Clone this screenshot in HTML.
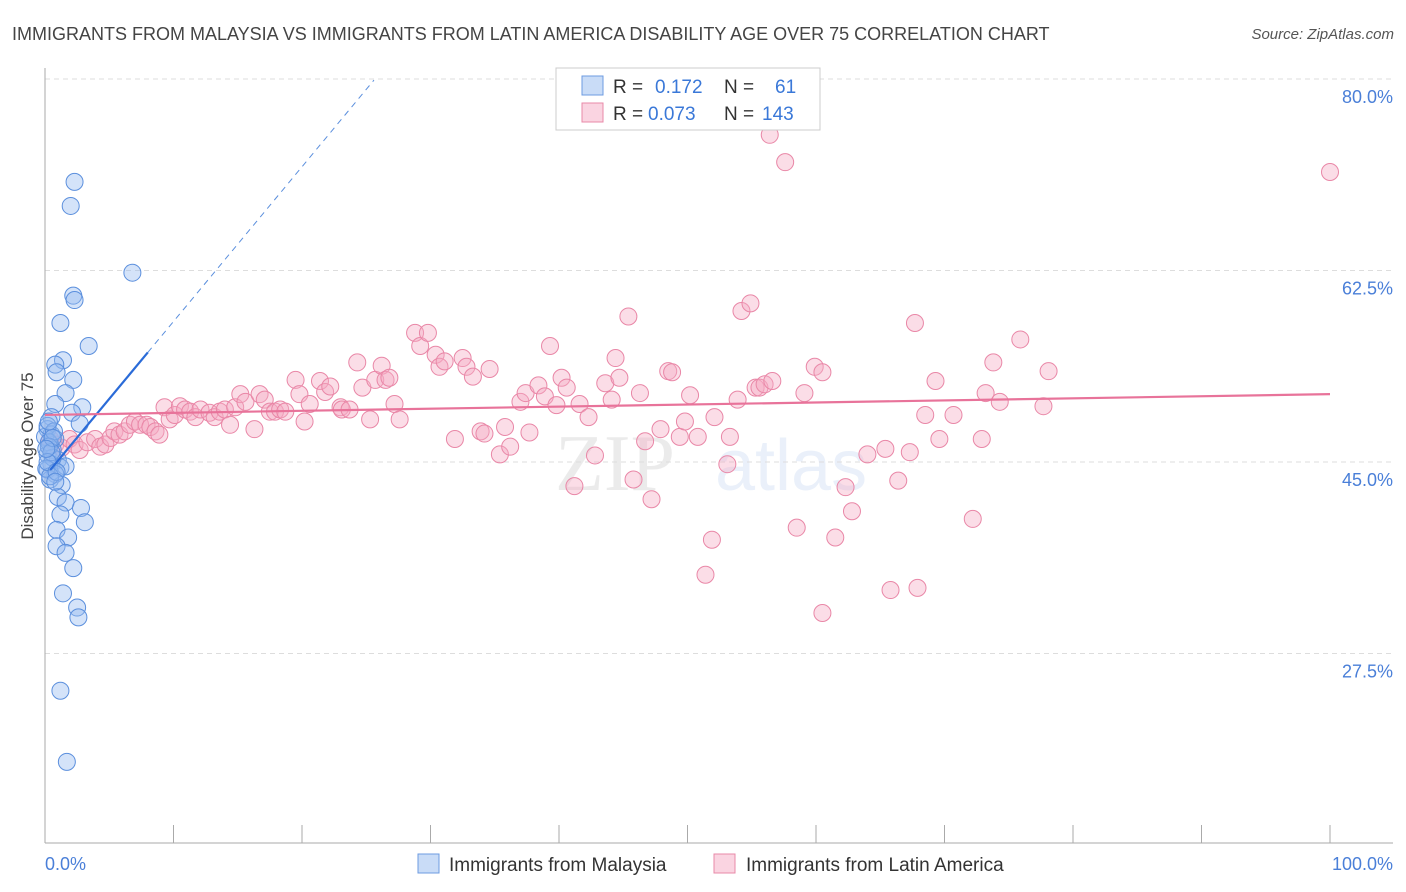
<!DOCTYPE html>
<html><head><meta charset="utf-8"><style>
body{margin:0;background:#fff;font-family:"Liberation Sans",sans-serif;}
svg{display:block}
</style></head><body>
<svg id="chart" width="1406" height="892" xmlns="http://www.w3.org/2000/svg" font-family="Liberation Sans, sans-serif">
<text x="12" y="40" font-size="18" fill="#444">IMMIGRANTS FROM MALAYSIA VS IMMIGRANTS FROM LATIN AMERICA DISABILITY AGE OVER 75 CORRELATION CHART</text>
<text x="1394" y="39" font-size="15" font-style="italic" fill="#555" text-anchor="end">Source: ZipAtlas.com</text>
<g opacity="0.12"><text x="555" y="490" font-size="80" font-family="Liberation Serif, serif" fill="#666">ZIP</text><text x="715" y="490" font-size="72" fill="#5a8ad8">atlas</text></g>
<g id="grid"></g><g id="axes"></g><g id="pts"></g><g id="lines"></g>
<text transform="translate(33,456) rotate(-90)" font-size="17" fill="#444" text-anchor="middle">Disability Age Over 75</text>
<g>
<rect x="556" y="68" width="264" height="62" fill="#fff" stroke="#ccc"/>
<rect x="582" y="76" width="21" height="19" fill="rgba(147,186,240,0.5)" stroke="#6d9be0"/>
<rect x="582" y="103" width="21" height="19" fill="rgba(246,170,195,0.5)" stroke="#e88aa8"/>
<text x="613" y="93" font-size="19" fill="#333">R =</text><text x="655" y="93" font-size="19" fill="#3a78d8">0.172</text>
<text x="724" y="93" font-size="19" fill="#333">N =</text><text x="775" y="93" font-size="19" fill="#3a78d8">61</text>
<text x="613" y="120" font-size="19" fill="#333">R =</text><text x="648" y="120" font-size="19" fill="#3a78d8">0.073</text>
<text x="724" y="120" font-size="19" fill="#333">N =</text><text x="762" y="120" font-size="19" fill="#3a78d8">143</text>
</g>
<g><rect x="418" y="854" width="21" height="19" fill="rgba(147,186,240,0.5)" stroke="#6d9be0"/><text x="449" y="871" font-size="19" fill="#333">Immigrants from Malaysia</text></g>
<g><rect x="714" y="854" width="21" height="19" fill="rgba(246,170,195,0.5)" stroke="#e88aa8"/><text x="746" y="871" font-size="19" fill="#333">Immigrants from Latin America</text></g>
</svg>
<script>
const yTicks=[80,62.5,45,27.5];
const yTickLabels=["80.0%","62.5%","45.0%","27.5%"];
const xTickVals=[0,10,20,30,40,50,60,70,80,90,100];
const blueX=[2.3,2.0,6.8,2.2,2.3,1.2,3.4,1.4,0.8,0.9,2.2,1.6,0.8,2.9,2.1,0.5,2.7,0.2,0.5,0.8,0.4,0.6,0.2,1.0,0.5,0.2,1.2,1.6,0.8,0.4,1.3,1.0,1.6,2.8,1.2,3.1,0.9,1.8,0.9,1.6,2.2,1.4,2.5,2.6,1.2,1.7,0.0,0.2,0.3,0.6,0.1,0.4,0.7,0.3,0.5,0.2,0.9,0.6,0.1,0.3,0.8];
const blueYraw=[72.2,70.0,63.9,61.8,61.4,59.3,57.2,55.9,55.5,54.8,54.1,52.9,51.9,51.6,51.1,50.7,50.1,49.6,49.1,48.7,48.2,47.7,47.3,46.8,46.4,45.9,46.1,46.2,45.5,45.0,44.5,43.4,42.9,42.4,41.8,41.1,40.4,39.7,38.9,38.3,36.9,34.6,33.3,32.4,25.7,19.2,48.9,49.9,48.4,47.0,46.0,45.3,49.4,48.0,47.5,46.6,45.7,48.8,47.8,50.3,44.8];
const blueY=blueYraw.map(v=>v-1.6);
const pinkX=[0.4,0.8,1.3,1.9,2.3,2.7,3.3,3.9,4.3,4.7,5.1,5.4,5.8,6.2,6.6,7.0,7.4,7.9,8.2,8.6,8.9,9.3,9.7,10.1,10.5,10.9,11.3,11.7,12.1,12.8,13.2,13.6,14.0,14.4,14.8,15.2,15.6,16.3,16.7,17.1,17.5,17.9,18.3,18.7,19.5,19.8,20.2,20.6,21.4,21.8,22.2,23.0,23.1,23.7,24.3,24.7,25.3,25.7,26.2,26.5,26.8,27.2,27.6,28.8,29.2,29.8,30.4,30.7,31.1,31.9,32.5,32.8,33.3,33.9,34.2,34.6,35.4,35.8,36.2,37.0,37.4,37.7,38.4,38.9,39.3,39.8,40.2,40.6,41.2,41.6,42.3,42.8,43.6,44.1,44.4,44.7,45.4,45.8,46.3,46.7,47.2,47.9,48.5,48.8,49.4,49.8,50.2,50.8,51.4,51.9,52.1,53.1,53.3,53.9,54.2,54.9,55.3,55.6,56.0,56.4,56.6,57.6,58.5,58.8,59.1,59.9,60.5,60.5,61.5,62.3,62.8,64.0,65.4,65.8,66.4,67.3,67.9,67.7,68.5,69.3,69.6,70.7,72.2,72.9,73.8,73.2,74.3,75.9,77.7,78.1,100];
const pinkYraw=[48.7,48.2,47.9,48.7,48.2,47.7,48.4,48.7,48.0,48.2,48.8,49.4,49.1,49.4,50.0,50.3,50.0,50.0,49.8,49.4,49.1,51.6,50.5,50.9,51.7,51.4,51.2,50.7,51.4,51.1,50.7,51.2,51.4,50.0,51.6,52.8,52.1,49.6,52.8,52.3,51.2,51.2,51.4,51.2,54.1,52.8,50.3,51.9,54.0,53.0,53.5,51.6,51.4,51.4,55.7,53.4,50.5,54.1,55.4,54.1,54.3,51.9,50.5,58.4,57.2,58.4,56.4,55.3,55.8,48.7,56.1,55.3,54.4,49.4,49.2,55.1,47.3,49.8,48.0,52.1,52.9,49.3,53.6,52.6,57.2,51.8,54.3,53.4,44.4,51.9,50.7,47.2,53.8,52.3,56.1,54.3,59.9,45.0,52.9,48.5,43.2,49.6,54.9,54.8,48.9,50.3,52.7,48.9,36.3,39.5,50.7,46.4,48.9,52.3,60.4,61.1,53.4,53.4,53.7,76.5,54.0,74.0,40.6,78.8,52.9,55.3,54.8,32.8,39.7,44.3,42.1,47.3,47.8,34.9,44.9,47.5,35.1,59.3,50.9,54.0,48.7,50.9,41.4,48.7,55.7,52.9,52.1,57.8,51.7,54.9,73.1];
const pinkY=pinkYraw.map(v=>v-1.6);
const blueTrend=[43.7,1.414];
const pinkTrend=[49.3,51.2];
const NS="http://www.w3.org/2000/svg";
const X0=45,X1=1330,xs=v=>X0+(X1-X0)*v/100;
const ys=v=>79+(80-v)*10.943;
function mk(tag,attrs,parent){const e=document.createElementNS(NS,tag);for(const k in attrs)e.setAttribute(k,attrs[k]);document.getElementById(parent).appendChild(e);return e;}
yTicks.forEach((t,i)=>{
 const l=mk('line',{x1:X0,x2:1393,y1:ys(t),y2:ys(t),stroke:'#ddd','stroke-dasharray':'5,4'},'grid');
 
 
 const tx=mk('text',{x:1393,y:ys(t)+24,'font-size':18,fill:'#4a7fd8','text-anchor':'end'},'grid');
 tx.textContent=yTickLabels[i];
 
 
});
const ax=mk('line',{x1:X0,x2:X0,y1:68,y2:843,stroke:'#aaa'},'axes');


const bx=mk('line',{x1:X0,x2:1393,y1:843,y2:843,stroke:'#aaa'},'axes');


xTickVals.forEach(v=>{const t=mk('line',{x1:xs(v),x2:xs(v),y1:825,y2:843,stroke:'#aaa'},'axes');
 
 });
const xl0=mk('text',{x:45,y:870,'font-size':18,fill:'#4a7fd8'},'axes');xl0.textContent='0.0%';


const xl1=mk('text',{x:1393,y:870,'font-size':18,fill:'#4a7fd8','text-anchor':'end'},'axes');xl1.textContent='100.0%';


pinkX.forEach((x,i)=>{const c=mk('circle',{cx:xs(x),cy:ys(pinkY[i]),r:8.5,fill:'rgba(246,170,195,0.4)',stroke:'#e987a7','stroke-width':1},'pts');
 
 });
blueX.forEach((x,i)=>{const c=mk('circle',{cx:xs(x),cy:ys(blueY[i]),r:8.5,fill:'rgba(147,186,240,0.4)',stroke:'#5b8fdd','stroke-width':1},'pts');
 
 });
const bf=x=>blueTrend[0]+blueTrend[1]*x;
const bl=mk('line',{x1:xs(0.4),y1:ys(bf(0.4)),x2:xs(8),y2:ys(bf(8)),stroke:'#2a6bd8','stroke-width':2.2},'lines');


const bd=mk('line',{x1:xs(8),y1:ys(bf(8)),x2:xs(25.6),y2:ys(bf(25.6)),stroke:'#5b8fdd','stroke-width':1,'stroke-dasharray':'6,5'},'lines');


const pl=mk('line',{x1:xs(0),y1:ys(pinkTrend[0]),x2:xs(100),y2:ys(pinkTrend[1]),stroke:'#e8739a','stroke-width':2.2},'lines');


</script>
</body></html>
